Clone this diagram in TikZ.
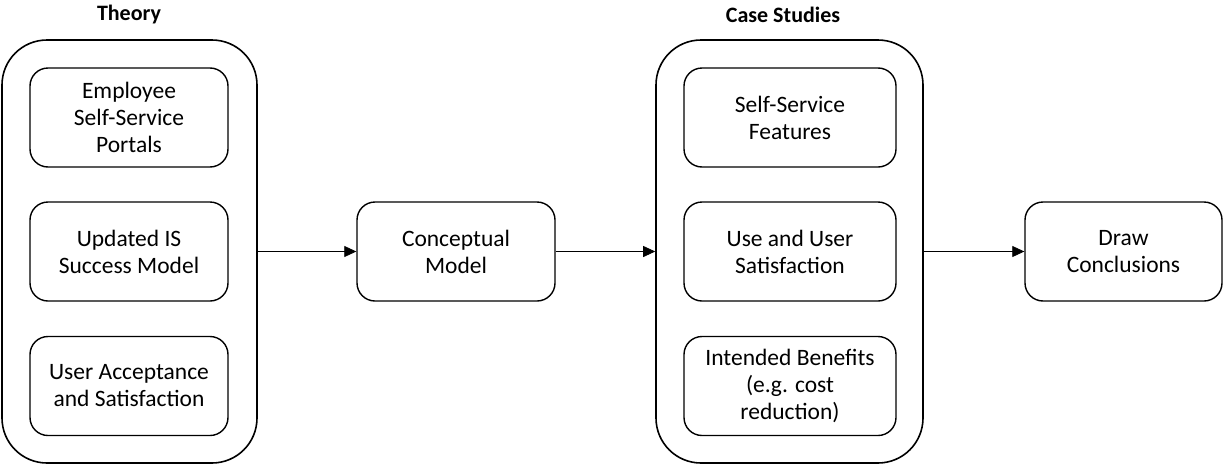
\documentclass[tikz,border=0pt]{standalone}
\usepackage{fontspec}
\setmainfont{Carlito}
\usetikzlibrary{arrows.meta}
\begin{document}
\begin{tikzpicture}
		[x=1pt,y=-1pt,
		group/.style={draw,line width=1.6pt,rounded corners=45pt,
			minimum height=423pt},
		item/.style={draw,line width=1.4pt,rounded corners=18pt,
			minimum height=99pt,align=center,
			font=\fontsize{23.5}{27}\selectfont},
		title/.style={font=\bfseries\fontsize{22}{26}\selectfont},
		link/.style={line width=0.8pt,-{Triangle[length=12pt,width=11pt]}}]
		\useasboundingbox (0,0) rectangle (1223,466);
		% Theory
		\node[group,minimum width=255pt] (theory) at (129.5,251.5) {};
		\node[title] (theorytitle) at (129,15) {Theory};
		\node[item,minimum width=198pt] (portals) at (129,117.5)
			{Employee\\Self-Service\\Portals};
		\node[item,minimum width=198pt] (ismodel) at (129,251.5)
			{Updated IS\\Success Model};
		\node[item,minimum width=198pt] (accept) at (129,386)
			{User Acceptance\\and Satisfaction};
		% model
		\node[item,minimum width=198pt] (concept) at (456,251.5)
			{Conceptual\\Model};
		% Case Studies
		\node[group,minimum width=267pt] (cases) at (789.5,251.5) {};
		\node[title] (casestitle) at (783,15) {Case Studies};
		\node[item,minimum width=212pt] (features) at (790,117.5)
			{Self-Service\\Features};
		\node[item,minimum width=212pt] (usesat) at (790,251.5)
			{Use and User\\Satisfaction};
		\node[item,minimum width=212pt] (benefits) at (790,386)
			{Intended Benefits\\(e.g. cost\\reduction)};
		% result
		\node[item,minimum width=197pt] (conclude) at (1123.5,251.5)
			{Draw\\Conclusions};
		\draw[link] (theory) -- (concept);
		\draw[link] (concept) -- (cases);
		\draw[link] (cases) -- (conclude);
	\end{tikzpicture}
\end{document}
